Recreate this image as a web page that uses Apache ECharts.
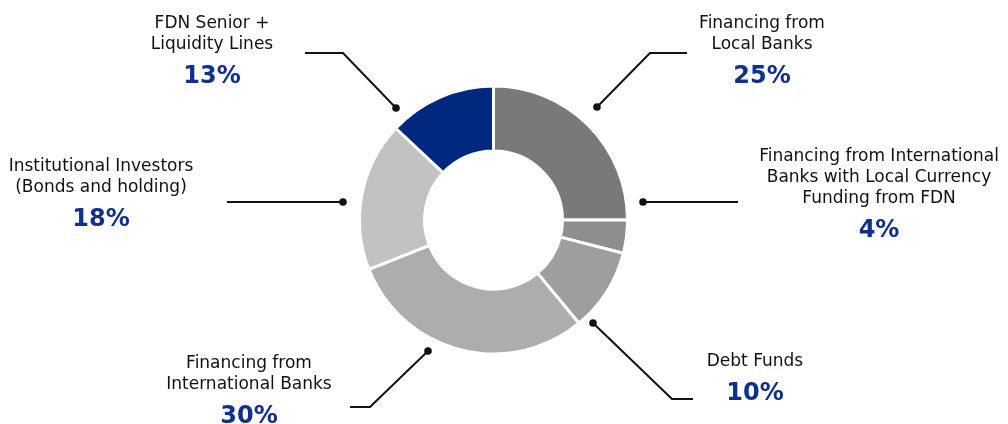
<!DOCTYPE html>
<html>
<head>
<meta charset="utf-8">
<script src="https://cdn.jsdelivr.net/npm/echarts@6/dist/echarts.min.js"></script>
<style>
html,body{margin:0;padding:0;background:#fff;}
#c{width:1008px;height:424px;}
</style>
</head>
<body>
<div id="c"></div>
<script>
const categories = [
  'Financing from\nLocal Banks',
  'Financing from International\nBanks with Local Currency\nFunding from FDN',
  'Debt Funds',
  'Financing from\nInternational Banks',
  'Institutional Investors\n(Bonds and holding)',
  'FDN Senior +\nLiquidity Lines'
];
const values = [25, 4, 10, 30, 18, 13];
const colors = ['#797979', '#8e8e8e', '#9e9e9e', '#adadad', '#c2c2c2', '#00287f'];

// label anchors (center x, top y) and leader-line points (annotation layout)
const labelPos = [[762, 13], [879, 146], [755, 351], [249, 353], [101, 156], [212, 13]];
const leaders = [
  [[597, 107], [650, 53], [687, 53]],
  [[643, 202], [738, 202]],
  [[593, 323], [672, 399], [693, 399]],
  [[428, 351], [370, 407], [350, 407]],
  [[343, 202], [227, 202]],
  [[396, 108], [343, 53], [305, 53]]
];

const chart = echarts.init(document.getElementById('c'), null, {renderer: 'canvas'});

const graphics = [];
leaders.forEach(pts => {
  graphics.push({type: 'polyline', shape: {points: pts}, style: {stroke: '#111', lineWidth: 2, fill: null}, z: 10});
  graphics.push({type: 'circle', shape: {cx: pts[0][0], cy: pts[0][1], r: 3.8}, style: {fill: '#111'}, z: 11});
});

chart.setOption({
  animation: false,
  graphic: graphics,
  series: [{
    type: 'pie',
    center: [493.5, 220],
    radius: [69, 134],
    startAngle: 90,
    clockwise: true,
    avoidLabelOverlap: false,
    itemStyle: {borderColor: '#fff', borderWidth: 3},
    label: {
      show: true,
      formatter: p => '{n|' + p.name + '}\n{p|' + p.value + '%}',
      align: 'center',
      verticalAlign: 'top',
      rich: {
        n: {fontFamily: 'DejaVu Sans', fontSize: 17, lineHeight: 21, color: '#111', align: 'center'},
        p: {fontFamily: 'DejaVu Sans', fontSize: 24, fontWeight: 'bold', lineHeight: 44, color: '#0f318d', align: 'center'}
      }
    },
    labelLine: {show: false},
    labelLayout: params => {
      const pos = labelPos[params.dataIndex];
      return {x: pos[0], y: pos[1], align: 'center', verticalAlign: 'top'};
    },
    data: categories.map((c, i) => ({name: c, value: values[i], itemStyle: {color: colors[i]}}))
  }]
});
</script>
</body>
</html>
